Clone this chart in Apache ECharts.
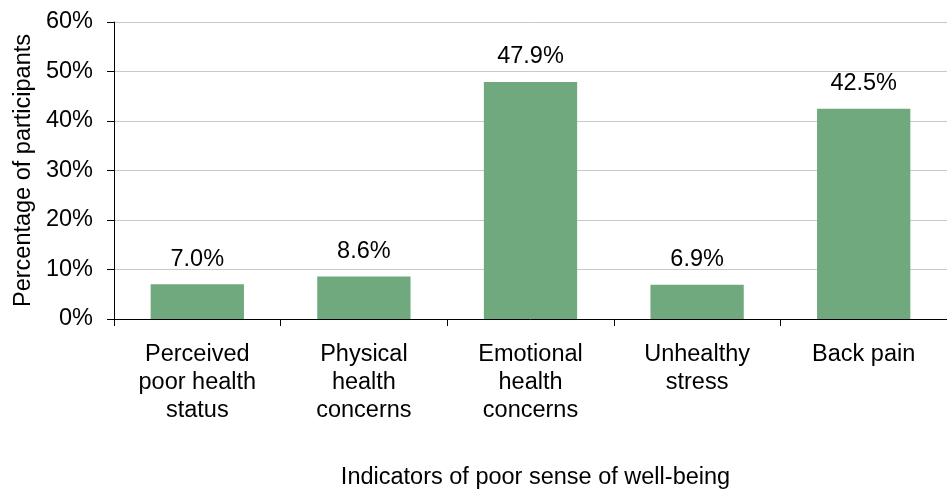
<!DOCTYPE html>
<html>
<head>
<meta charset="utf-8">
<script src="https://cdn.jsdelivr.net/npm/echarts@6/dist/echarts.min.js"></script>
<style>
  html, body { margin: 0; padding: 0; background: #fff; }
  #chart { width: 947px; height: 495px; }
</style>
</head>
<body>
<div id="chart"></div>
<script>
// Indicators of poor sense of well-being (share of participants, %)
const categories = [
  'Perceived\npoor health\nstatus',
  'Physical\nhealth\nconcerns',
  'Emotional\nhealth\nconcerns',
  'Unhealthy\nstress',
  'Back pain'
];
const shares = [7.0, 8.6, 47.9, 6.9, 42.5];
const yTicks = { min: 0, max: 60, interval: 10 };

const FONT = '"Liberation Sans", Arial, sans-serif';
const FS = 23.5;
const chart = echarts.init(document.getElementById('chart'));
chart.setOption({
  animation: false,
  textStyle: { fontFamily: FONT },
  grid: { left: 114, right: -4, top: 22, bottom: 170 },
  xAxis: {
    type: 'category',
    data: categories,
    name: 'Indicators of poor sense of well-being',
    nameLocation: 'middle',
    nameGap: 147,
    nameTextStyle: { fontFamily: FONT, fontSize: FS, color: '#000', padding: [0, 0, 0, 10] },
    axisLine: { lineStyle: { color: '#000', width: 1 } },
    axisTick: { show: true, length: 7, alignWithLabel: false, lineStyle: { color: '#000' } },
    axisLabel: { fontFamily: FONT, fontSize: FS, color: '#000', lineHeight: 28, margin: 22, interval: 0 }
  },
  yAxis: {
    type: 'value',
    min: yTicks.min,
    max: yTicks.max,
    interval: yTicks.interval,
    name: 'Percentage of participants',
    nameLocation: 'middle',
    nameGap: 78,
    nameTextStyle: { fontFamily: FONT, fontSize: FS, color: '#000' },
    axisLine: { show: true, lineStyle: { color: '#000', width: 1 } },
    axisTick: { show: true, length: 7, inside: false, lineStyle: { color: '#000' } },
    axisLabel: { fontFamily: FONT, fontSize: FS, color: '#000', margin: 21, formatter: v => v + '%' },
    splitLine: { show: true, lineStyle: { color: '#c8c8c8', width: 1 } }
  },
  series: [{
    type: 'bar',
    data: shares,
    barWidth: '56%',
    itemStyle: { color: '#70a97d' },
    label: {
      show: true,
      position: 'top',
      distance: 13,
      fontFamily: FONT,
      fontSize: FS,
      color: '#000',
      formatter: p => p.value.toFixed(1) + '%'
    }
  }]
});
</script>
</body>
</html>
